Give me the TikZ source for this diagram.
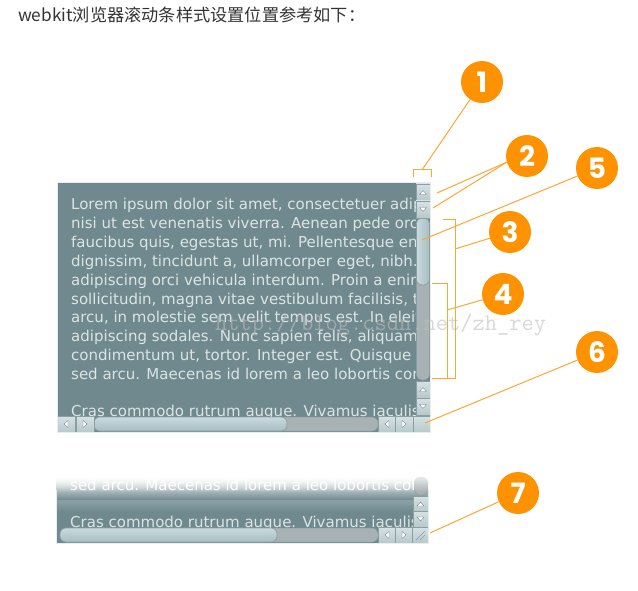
\documentclass[tikz,border=0pt]{standalone}
\usepackage{fontspec}
\newfontfamily\cjkfont{Noto Sans CJK SC}
\newfontfamily\boxfont{DejaVu Sans}
\newfontfamily\markfont{Poppins}
\usetikzlibrary{arrows.meta,positioning,calc,fadings}

\begin{document}
\begin{tikzpicture}[
        x=1pt, y=-1pt, % un punto por pixel, eje y hacia abajo
        sbbutton/.style={draw=btnedge, line width=0.6pt, top color=btnlight, bottom color=btnface},
        sbglyph/.style={fill=white, draw=btnedge!80!black, line width=0.3pt},
        sbtrack/.style={fill=trackgray, draw=btnedge, line width=0.5pt, rounded corners=6pt},
        vthumb/.style={draw=btnedge, line width=0.6pt, rounded corners=6pt, left color=thumblight, right color=thumbdark},
        hthumb/.style={draw=btnedge, line width=0.6pt, rounded corners=6pt, top color=thumblight, bottom color=thumbdark},
        boxline/.style={anchor=base west, text=boxtext, font=\boxfont\fontsize{15}{16}\selectfont, inner sep=0pt},
        callout/.style={circle, fill=calloutorange, text=white, minimum size=42pt, inner sep=0pt,
            font=\markfont\bfseries\fontsize{28}{28}\selectfont},
        leader/.style={draw=leaderorange, line width=1pt}
    ]

        % --- COLORES ---
        \definecolor{boxbg}{RGB}{111,137,143}
        \definecolor{boxtext}{RGB}{220,228,228}
        \definecolor{btnlight}{RGB}{214,226,228}
        \definecolor{btnface}{RGB}{184,200,203}
        \definecolor{btnedge}{RGB}{140,158,162}
        \definecolor{thumblight}{RGB}{200,218,221}
        \definecolor{thumbdark}{RGB}{168,190,194}
        \definecolor{trackgray}{RGB}{168,177,179}
        \definecolor{calloutorange}{RGB}{255,146,0}
        \definecolor{leaderorange}{RGB}{255,166,50}
        \definecolor{titlegray}{RGB}{51,51,51}
        \definecolor{markgray}{RGB}{190,190,190}

        \useasboundingbox (0,0) rectangle (638,591);

        % --- TITULO ---
        \node[anchor=base west, inner sep=0pt, text=titlegray, font=\cjkfont\fontsize{17.2}{19}\selectfont]
            (title) at (18,22) {webkit浏览器滚动条样式设置位置参考如下：};

        % --- CAJA PRINCIPAL ---
        \fill[boxbg] (57,183) rectangle (430,432);
        \begin{scope}
            \clip (57,183) rectangle (415,416);
            \foreach \i/\txt in {
                1/{Lorem ipsum dolor sit amet, consectetuer adipiscing},
                2/{nisi ut est venenatis viverra. Aenean pede orci,},
                3/{faucibus quis, egestas ut, mi. Pellentesque enim},
                4/{dignissim, tincidunt a, ullamcorper eget, nibh. Sed},
                5/{adipiscing orci vehicula interdum. Proin a enim},
                6/{sollicitudin, magna vitae vestibulum facilisis, tellus},
                7/{arcu, in molestie sem velit tempus est. In eleifend},
                8/{adipiscing sodales. Nunc sapien felis, aliquam et},
                9/{condimentum ut, tortor. Integer est. Quisque et},
                10/{sed arcu. Maecenas id lorem a leo lobortis condimentum},
                12/{Cras commodo rutrum augue. Vivamus iaculis}}
                \node[boxline] (line\i) at (71,{210+(\i-1)*18.8}) {\txt};
        \end{scope}

        % barra vertical
        \draw[sbtrack] (416.5,218) rectangle (429.5,380);
        \draw[vthumb] (416.5,218) rectangle (429.5,285);
        \foreach \y in {184,201,381,398}
            \draw[sbbutton] (416,\y) rectangle (430,\y+17);
        \foreach \y in {184,381}
            \fill[sbglyph] (419.5,\y+10.5) -- (426.5,\y+10.5) -- (423,\y+6.5) -- cycle;
        \foreach \y in {201,398}
            \fill[sbglyph] (419.5,\y+6.5) -- (426.5,\y+6.5) -- (423,\y+10.5) -- cycle;

        % barra horizontal
        \draw[sbtrack] (94,417) rectangle (378,431);
        \draw[hthumb] (94,417) rectangle (287,431);
        \foreach \x in {57,76,378,395}
            \draw[sbbutton] (\x,416) rectangle (\x+18,432);
        \foreach \x in {57,378}
            \fill[sbglyph] (\x+11,420.5) -- (\x+11,427.5) -- (\x+7,424) -- cycle;
        \foreach \x in {76,395}
            \fill[sbglyph] (\x+7,420.5) -- (\x+7,427.5) -- (\x+11,424) -- cycle;
        \draw[sbbutton] (413,416) rectangle (430,432);
        \draw[btnlight!60!white, line width=1pt] (57,183) rectangle (430,432);

        % --- MARCA DE AGUA ---
        \node[anchor=base west, inner sep=0pt, text=markgray, opacity=0.6,
            font=\ttfamily\fontsize{23.8}{25}\selectfont] (mark) at (215,330) {http://blog.csdn.net/zh\_rey};

        % --- CAJA INFERIOR ---
        \shade[top color=white, bottom color=boxbg] (56,477) rectangle (428,500);
        \shade[top color=boxbg!80!white, bottom color=boxbg] (56,500) rectangle (428,512);
        \fill[boxbg] (56,512) rectangle (428,543);
        \begin{scope}
            \clip (56,477) rectangle (413,527);
            \node[boxline, text=white] (lowline1) at (70,490) {sed arcu. Maecenas id lorem a leo lobortis condimentum};
            \node[boxline] (lowline2) at (70,527) {Cras commodo rutrum augue. Vivamus iaculis};
        \end{scope}
        \draw[sbtrack] (414.5,477) rectangle (427.5,495);
        \foreach \y in {496,511}
            \draw[sbbutton] (413,\y) rectangle (428,\y+16);
        \fill[sbglyph] (417,506) -- (424,506) -- (420.5,502) -- cycle;
        \fill[sbglyph] (417,517) -- (424,517) -- (420.5,521) -- cycle;
        \draw[sbtrack] (60,528) rectangle (378,542);
        \draw[hthumb] (60,528) rectangle (277,542);
        \foreach \x in {378,395}
            \draw[sbbutton] (\x,527) rectangle (\x+17,543);
        \fill[sbglyph] (389,531.5) -- (389,538.5) -- (385,535) -- cycle;
        \fill[sbglyph] (402,531.5) -- (402,538.5) -- (406,535) -- cycle;
        \draw[sbbutton] (412,527) rectangle (428,543);
        \draw[btnedge, line width=0.6pt] (416,540) -- (425,531) (420,540) -- (425,535);
        % desvanecido superior
        \fill[white, path fading=south] (54,472) rectangle (430,492);
        \draw[btnlight!60!white, line width=1pt] (56,490) -- (56,543) -- (428,543) -- (428,490);

        % --- MARCADORES NUMERADOS ---
        \node[callout] (c1) at (482,82) {1};
        \node[callout] (c2) at (527,156) {2};
        \node[callout] (c5) at (597,168) {5};
        \node[callout] (c3) at (510,232) {3};
        \node[callout] (c4) at (503,294) {4};
        \node[callout] (c6) at (597,352) {6};
        \node[callout] (c7) at (518,493) {7};

        % --- PUNTOS DE REFERENCIA ---
        \coordinate (corner) at (422,170);
        \coordinate (upbtn) at (437,193);
        \coordinate (downbtn) at (433,208);
        \coordinate (thumb) at (422,240);
        \coordinate (trackmid) at (455,249);
        \coordinate (piecemid) at (447,310);
        \coordinate (sbcorner) at (425,423);
        \coordinate (resizer) at (430,533);

        % --- CORCHETES ---
        \draw[leader] (413,177) -- (413,170) -- (431,170) -- (431,177);
        \draw[leader] (443,220) -- (455,220) -- (455,378) -- (443,378);
        \draw[leader] (432,283) -- (447,283) -- (447,378) -- (432,378);

        % --- LINEAS GUIA ---
        \draw[leader] (c1) -- (corner);
        \draw[leader] (c2.197) -- (upbtn);
        \draw[leader] (c2.197) -- (downbtn);
        \draw[leader] (c5) -- (thumb);
        \draw[leader] (c3) -- (trackmid);
        \draw[leader] (c4) -- (piecemid);
        \draw[leader] (c6) -- (sbcorner);
        \draw[leader] (c7) -- (resizer);

    \end{tikzpicture}
\end{document}
